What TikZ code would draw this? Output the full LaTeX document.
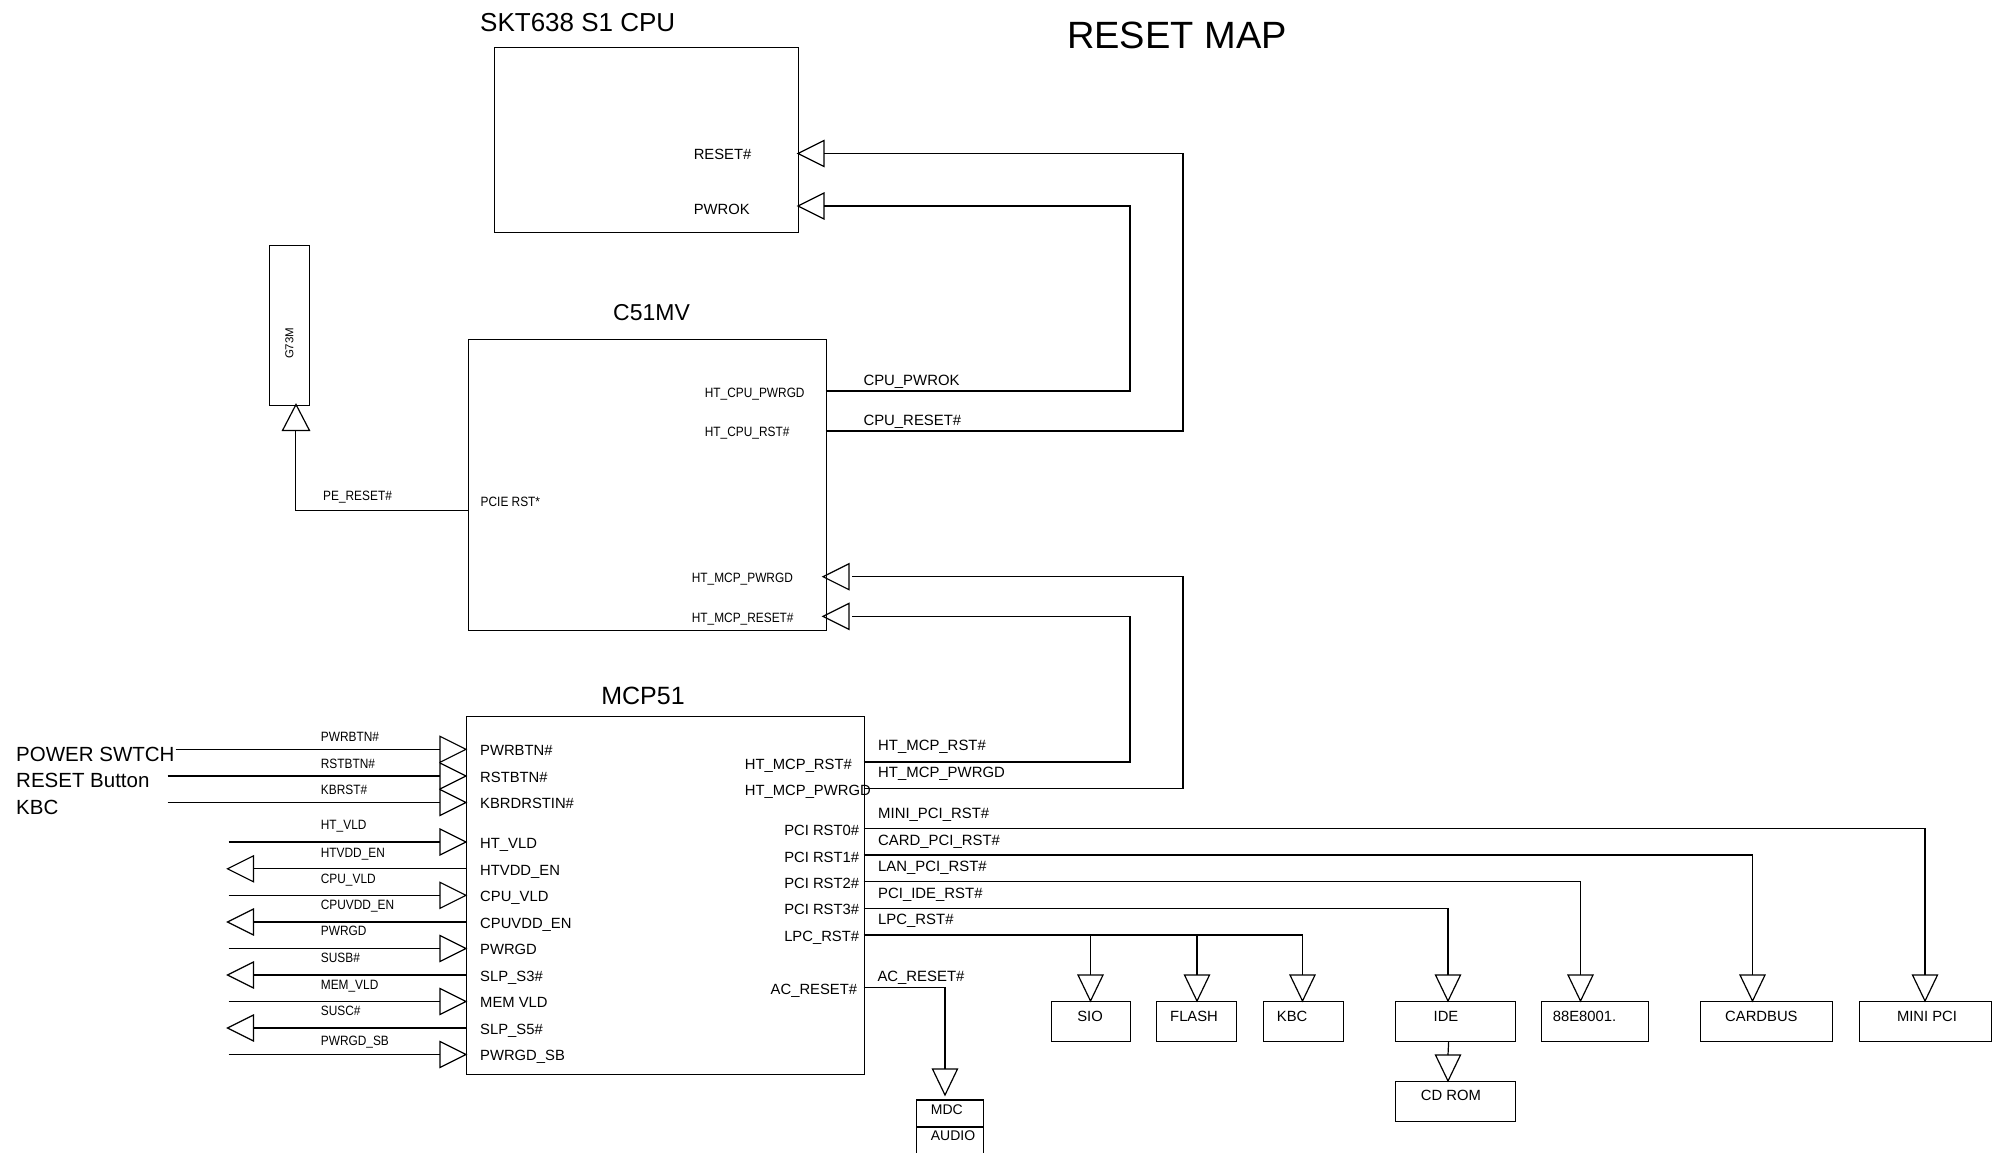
\documentclass[tikz,border=0pt]{standalone}
\usepackage{fontspec}
\setmainfont{Liberation Sans}
\newfontfamily\narrowfont[FakeStretch=0.88]{Liberation Sans}
\begin{document}
\begin{tikzpicture}[x=1pt,y=-1pt,
  wire/.style={line width=1.2pt, line join=miter},
  box/.style={draw, line width=1.2pt, inner sep=0pt, anchor=north west},
  lab/.style={font=\fontsize{14.8}{17}\selectfont, inner sep=0pt, anchor=base west},
  labr/.style={font=\fontsize{14.8}{17}\selectfont, inner sep=0pt, anchor=base east},
  nlab/.style={font=\narrowfont\fontsize{13.5}{16}\selectfont, inner sep=0pt, anchor=base west},
  big/.style={font=\fontsize{20.5}{24}\selectfont, inner sep=0pt, anchor=base west},
  trir/.pic={\draw[wire] (0,0) -- (-26,-13) -- (-26,13) -- cycle;},
  tril/.pic={\draw[wire] (0,0) -- (26,-13) -- (26,13) -- cycle;},
  trid/.pic={\draw[wire] (0,0) -- (-12.5,-26) -- (12.5,-26) -- cycle;},
  triu/.pic={\draw[wire] (0,0) -- (-13.5,26) -- (13.5,26) -- cycle;}
]
\useasboundingbox (0,0) rectangle (2008,1153);

% titles
\node[font=\fontsize{38}{44}\selectfont, inner sep=0pt, anchor=base] (title) at (1177,48.5) {RESET MAP};
\node[font=\fontsize{26}{30}\selectfont, inner sep=0pt, anchor=base west] (cputitle) at (480,31.5) {SKT638 S1 CPU};
\node[font=\fontsize{23}{27}\selectfont, inner sep=0pt, anchor=base] (c51title) at (651.5,320) {C51MV};
\node[font=\fontsize{25}{29}\selectfont, inner sep=0pt, anchor=base] (mcptitle) at (643,704) {MCP51};

% CPU box
\node[box, minimum width=304pt, minimum height=185pt] (cpu) at (494,47) {};
\node[lab] (cpurst) at (693.6,160) {RESET\#};
\node[lab] (cpupwrok) at (693.6,214.5) {PWROK};
\coordinate (cpuA) at (798,153.5);
\coordinate (cpuB) at (798,206);
\pic at (cpuA) {tril};
\pic at (cpuB) {tril};

% C51MV box
\node[box, minimum width=358pt, minimum height=291.5pt] (c51) at (467.5,338.5) {};
\node[nlab] (l1) at (704.7,397) {HT\_CPU\_PWRGD};
\node[nlab] (l2) at (704.7,436.5) {HT\_CPU\_RST\#};
\node[nlab] (l3) at (480.5,506.5) {PCIE RST*};
\node[nlab] (l4) at (691.7,582) {HT\_MCP\_PWRGD};
\node[nlab] (l5) at (691.7,622) {HT\_MCP\_RESET\#};
\coordinate (c51a) at (825.5,391);
\coordinate (c51b) at (825.5,431);
\coordinate (c51c) at (823,576.7);
\coordinate (c51d) at (823,616.4);
\coordinate (c51e) at (467.5,510.7);
\pic at (c51c) {tril};
\pic at (c51d) {tril};

% CPU <-> C51MV wires
\draw[wire] (c51a) -- (1130,391) -- (1130,206) -- (824,206);
\draw[wire] (c51b) -- (1183,431) -- (1183,153.5) -- (824,153.5);
\node[lab, font=\fontsize{14.9}{17}\selectfont] (w1) at (863.3,385) {CPU\_PWROK};
\node[lab, font=\fontsize{14.9}{17}\selectfont] (w2) at (863.3,425.3) {CPU\_RESET\#};

% G73M
\node[box, minimum width=40.5pt, minimum height=159.5pt] (g73) at (268.5,245) {};
\node[font=\fontsize{11.5}{13}\selectfont, inner sep=0pt, rotate=90] (g73t) at (289.3,343.3) {G73M};
\coordinate (g73in) at (296,404.5);
\pic at (g73in) {triu};
\draw[wire] (295.5,430.5) -- (295.5,510.7) -- (c51e);
\node[nlab] (w3) at (323,500.5) {PE\_RESET\#};

% MCP51 box
\node[box, minimum width=397.5pt, minimum height=358pt] (mcp) at (466,716) {};

% left side inputs
\foreach \y/\il/\nl/\ly/\sx [count=\i] in {
  749.3/PWRBTN\#/PWRBTN\#/736.7/175.7,
  776/RSTBTN\#/RSTBTN\#/763.3/167.7,
  802.5/KBRDRSTIN\#/KBRST\#/789.3/167.7,
  842/HT\_VLD/HT\_VLD/825/228.7,
  895.3/CPU\_VLD/CPU\_VLD/878.3/228.7,
  948.5/PWRGD/PWRGD/931/228.7,
  1001.5/MEM VLD/MEM\_VLD/984.3/228.7,
  1054.5/PWRGD\_SB/PWRGD\_SB/1041/228.7} {
  \coordinate (inpin\i) at (466,\y);
  \draw[wire] (\sx,\y) -- (440,\y);
  \pic at (inpin\i) {trir};
  \node[lab] (inlab\i) at (480,\y+6.4) {\il};
  \node[nlab] (innet\i) at (320.7,\ly+4.8) {\nl};
}
% left side outputs
\foreach \y/\il/\nl/\ly [count=\i] in {
  868.8/HTVDD\_EN/HTVDD\_EN/852.3,
  922/CPUVDD\_EN/CPUVDD\_EN/905,
  975/SLP\_S3\#/SUSB\#/957.7,
  1028/SLP\_S5\#/SUSC\#/1011} {
  \coordinate (outpin\i) at (466,\y);
  \draw[wire] (outpin\i) -- (253.5,\y);
  \pic at (227.5,\y) {tril};
  \node[lab] (outlab\i) at (480,\y+6.4) {\il};
  \node[nlab] (outnet\i) at (320.7,\ly+4.8) {\nl};
}

\node[big] (b1) at (16,761.5) {POWER SWTCH};
\node[big] (b2) at (16,787.3) {RESET Button};
\node[big] (b3) at (16,814) {KBC};

% MCP right labels
\node[lab] (r1) at (744.7,769.3) {HT\_MCP\_RST\#};
\node[lab] (r2) at (744.7,795.3) {HT\_MCP\_PWRGD};
\node[labr] (r3) at (859.3,835.3) {PCI RST0\#};
\node[labr] (r4) at (859.3,862) {PCI RST1\#};
\node[labr] (r5) at (859.3,888) {PCI RST2\#};
\node[labr] (r6) at (859.3,914.6) {PCI RST3\#};
\node[labr] (r7) at (859.3,941.3) {LPC\_RST\#};
\node[labr] (r8) at (857.3,994.6) {AC\_RESET\#};

% MCP -> C51MV wires
\draw[wire] (863.5,762) -- (1130,762) -- (1130,616.4) -- (852,616.4);
\draw[wire] (863.5,788.5) -- (1183,788.5) -- (1183,576.7) -- (852,576.7);

% wire labels
\foreach \t/\yy [count=\i] in {HT\_MCP\_RST\#/750.3, HT\_MCP\_PWRGD/777.3, MINI\_PCI\_RST\#/818.3,
  CARD\_PCI\_RST\#/845.3, LAN\_PCI\_RST\#/871, PCI\_IDE\_RST\#/898, LPC\_RST\#/924.3} {
  \node[lab, font=\fontsize{14.9}{17}\selectfont] (wl\i) at (878,\yy) {\t};
}
\node[lab, font=\fontsize{14.9}{17}\selectfont] (wlac) at (877.3,981.3) {AC\_RESET\#};

% peripheral boxes
\tikzset{pbox/.style={box, minimum height=40.5pt}}
\node[pbox, minimum width=79.5pt] (sio) at (1050.5,1000.5) {};
\node[pbox, minimum width=80pt] (flash) at (1156,1000.5) {};
\node[pbox, minimum width=80pt] (kbc) at (1262.5,1000.5) {};
\node[pbox, minimum width=120pt] (ide) at (1395,1000.5) {};
\node[pbox, minimum width=107pt] (lan) at (1540.5,1000.5) {};
\node[pbox, minimum width=132pt] (card) at (1700,1000.5) {};
\node[pbox, minimum width=132pt] (mini) at (1859,1000.5) {};
\node[pbox, minimum width=120pt] (cdrom) at (1395,1080.7) {};

\node[lab, anchor=base] (tsio) at (1090,1021.7) {SIO};
\node[lab] (tflash) at (1170,1021.7) {FLASH};
\node[lab] (tkbc) at (1276.7,1021.7) {KBC};
\node[lab, anchor=base] (tide) at (1446,1021.7) {IDE};
\node[lab] (tlan) at (1552.7,1021.7) {88E8001.};
\node[lab, anchor=base] (tcard) at (1761.4,1021.7) {CARDBUS};
\node[lab, anchor=base] (tmini) at (1927,1021.7) {MINI PCI};
\node[lab] (tcd) at (1420.7,1100.3) {CD ROM};

% PCI / LPC wires
\draw[wire] (863.5,828.5) -- (1925,828.5) -- (1925,975);
\draw[wire] (863.5,855) -- (1752.5,855) -- (1752.5,975);
\draw[wire] (863.5,881.5) -- (1580.5,881.5) -- (1580.5,975);
\draw[wire] (863.5,908.3) -- (1448,908.3) -- (1448,975);
\draw[wire] (863.5,935) -- (1302.5,935) -- (1302.5,975);
\draw[wire] (1090.5,935) -- (1090.5,975);
\draw[wire] (1197,935) -- (1197,975);
\foreach \xx [count=\i] in {1090.5,1197,1302.5,1448,1580.5,1752.5,1925} {
  \coordinate (tip\i) at (\xx,1001);
  \pic at (tip\i) {trid};
}
% IDE -> CD ROM
\draw[wire] (ide.south) ++(-7,0) coordinate (idebot) -- (1448,1055);
\coordinate (cdtip) at (1448,1081);
\pic at (cdtip) {trid};

% AC_RESET -> MDC/AUDIO
\draw[wire] (863.5,987.5) -- (945,987.5) -- (945,1069);
\coordinate (mdctip) at (945,1095);
\pic at (mdctip) {trid};
\draw[wire] (916.7,1153) -- (916.7,1100) -- (983.3,1100) -- (983.3,1153);
\draw[line width=2.4pt] (916.7,1126.7) -- (983.3,1126.7);
\node[lab, font=\fontsize{14}{16}\selectfont] (tmdc) at (930.7,1114) {MDC};
\node[lab, font=\fontsize{14}{16}\selectfont] (taudio) at (930.7,1140) {AUDIO};
\end{tikzpicture}
\end{document}
